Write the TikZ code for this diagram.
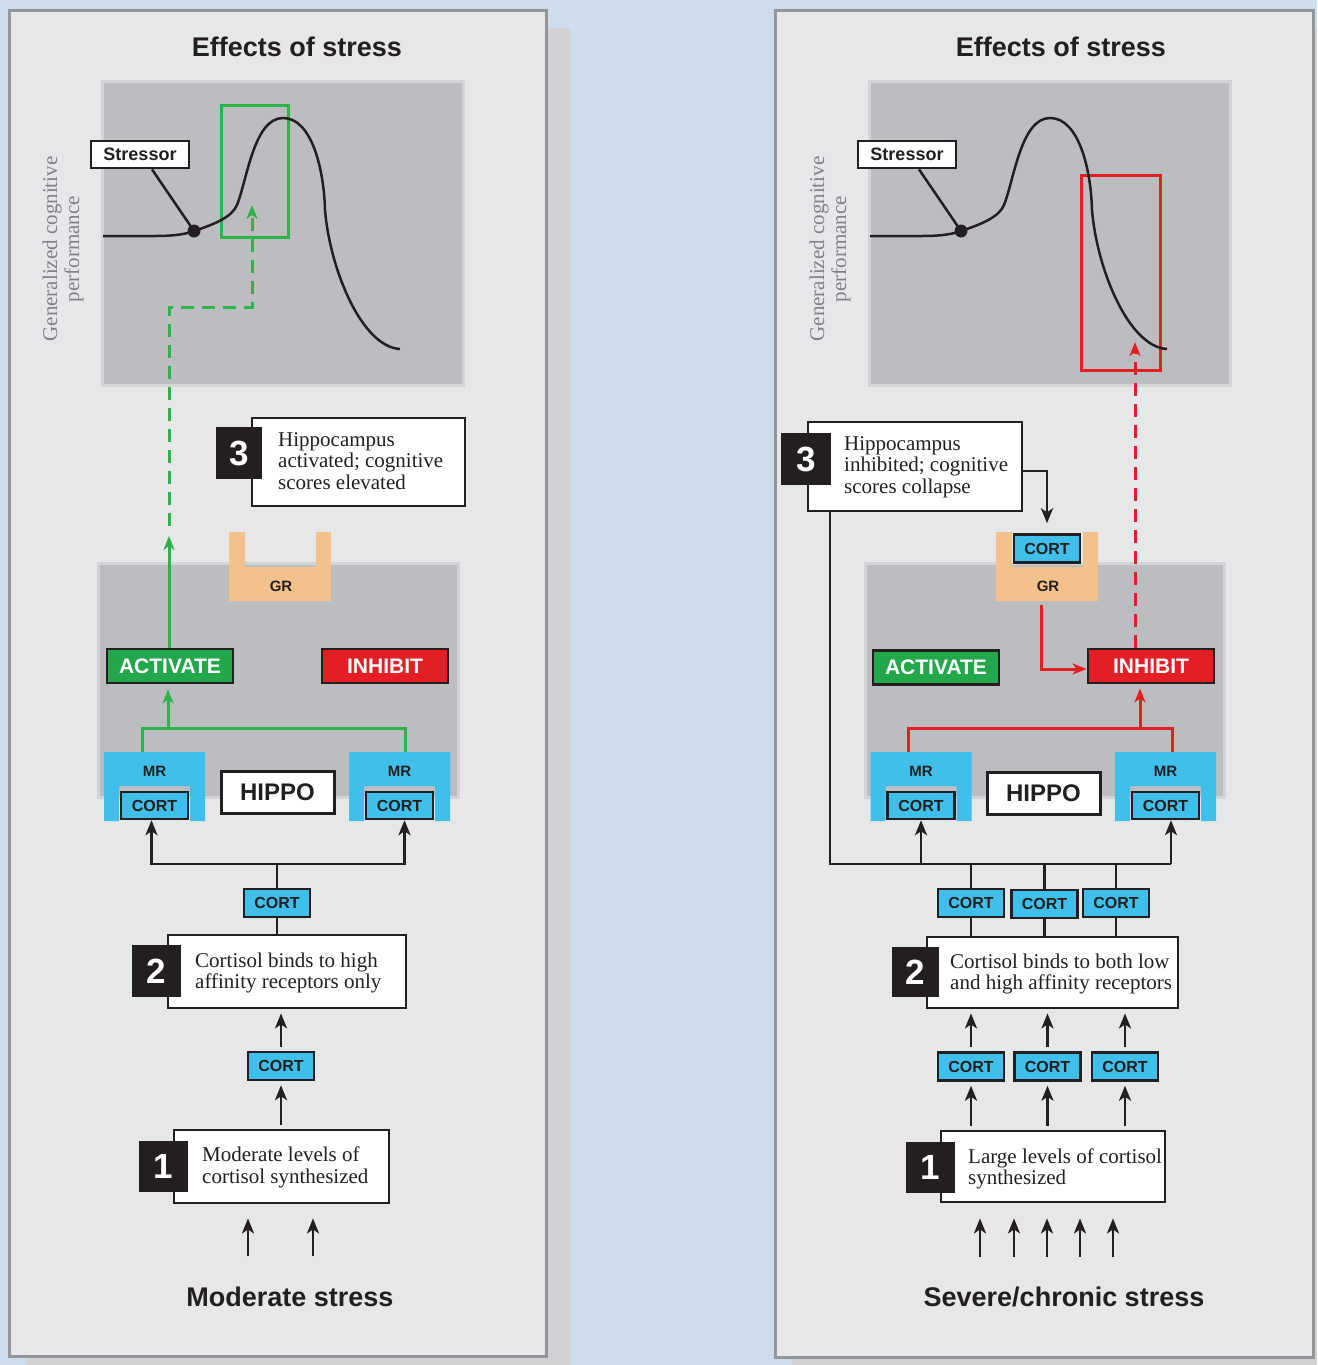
\documentclass[tikz,border=0pt]{standalone}
\usepackage{fontspec}
\setmainfont{Liberation Serif}
\setsansfont{Liberation Sans}
\usetikzlibrary{arrows.meta}
\definecolor{bgblue}{HTML}{CEDDEE}
\definecolor{panelgray}{HTML}{E6E7E8}
\definecolor{panelborder}{HTML}{939598}
\definecolor{shadowgray}{HTML}{D1D2D4}
\definecolor{boxgray}{HTML}{BCBDC0}
\definecolor{boxborder}{HTML}{D3D4D6}
\definecolor{ink}{HTML}{231F20}
\definecolor{cortblue}{HTML}{3FBFEA}
\definecolor{actgreen}{HTML}{22A84A}
\definecolor{linegreen}{HTML}{2DB34A}
\definecolor{inhred}{HTML}{E31E25}
\definecolor{grorange}{HTML}{F3C18B}
\definecolor{axisgray}{HTML}{808285}
\begin{document}
\begin{tikzpicture}[x=1pt,y=-1pt,
 panel/.style={fill=panelgray, draw=panelborder, line width=3pt},
 graybox/.style={fill=boxgray, draw=boxborder, line width=3pt, inner sep=0},
 ttl/.style={font=\fontsize{27}{30}\selectfont\sffamily\bfseries, text=ink, inner sep=0},
 axlab/.style={font=\fontsize{21}{22}\selectfont, text=axisgray, align=center, inner sep=0, rotate=90},
 cort/.style={fill=cortblue, draw=ink, line width=2.4pt, inner sep=0, minimum width=66pt, minimum height=28pt, font=\fontsize{16}{16}\selectfont\sffamily\bfseries, text=ink},
 lbl/.style={font=\fontsize{15}{15}\selectfont\sffamily\bfseries, text=ink, inner sep=0},
 txtbox/.style={fill=white, draw=ink, line width=2.8pt, inner sep=0},
 stressbox/.style={txtbox, minimum width=98pt, minimum height=27pt, font=\fontsize{18}{18}\selectfont\sffamily\bfseries, text=ink},
 hippo/.style={txtbox, line width=3pt, minimum width=113pt, minimum height=42pt, font=\fontsize{24}{24}\selectfont\sffamily\bfseries, text=ink},
 numbox/.style={fill=ink, text=white, inner sep=0, font=\fontsize{35}{35}\selectfont\sffamily\bfseries},
 steptext/.style={font=\fontsize{21}{21.5}\selectfont, text=ink, align=left, inner sep=0, anchor=west},
 actbox/.style={fill=actgreen, draw=ink, line width=2.8pt, inner sep=0, minimum width=126pt, minimum height=34pt, text=white, font=\fontsize{21}{21}\selectfont\sffamily\bfseries},
 inhbox/.style={actbox, fill=inhred},
 curve/.style={draw=ink, line width=2.5pt},
 dotnode/.style={circle, fill=ink, inner sep=0, minimum size=13pt},
 conn/.style={draw=ink, line width=2.8pt},
 arr/.style={conn, -{Stealth[length=15pt,width=12pt,inset=4pt]}},
 sh/.style={shorten <=4pt, shorten >=4pt},
 greenline/.style={draw=linegreen, line width=3pt},
 greenarr/.style={greenline, -{Stealth[length=14pt,width=11pt,inset=4pt]}},
 greendash/.style={greenarr, dash pattern=on 13pt off 8pt},
 redline/.style={draw=inhred, line width=3pt},
 redarr/.style={redline, -{Stealth[length=14pt,width=11pt,inset=4pt]}},
 reddash/.style={redarr, dash pattern=on 13pt off 8pt},
 grshape/.style={fill=grorange},
 mrshape/.style={fill=cortblue}
]
\useasboundingbox (0,0) rectangle (1317,1365);
\fill[bgblue] (0,0) rectangle (1317,1365);
\fill[shadowgray] (26,28) rectangle (570,1365);
\fill[shadowgray] (792,28) rectangle (1317,1365);
\draw[panel] (9,10) rectangle (546,1356);
\draw[panel] (775,10) rectangle (1313,1357);

\node[ttl] (titleL) at (297,47) {Effects of stress};
\node[ttl] (titleR) at (1061,47) {Effects of stress};

% graph boxes
\foreach \s/\dx in {L/0,R/767}{
 \begin{scope}[xshift=\dx pt]
  \node[graybox, minimum width=361pt, minimum height=304pt] (graph\s) at (282.5,233) {};
  \node[axlab] (ylab\s) at (63,249) {Generalized cognitive\\performance};
 \end{scope}
}
% highlight boxes
\node[draw=linegreen, line width=3pt, minimum width=67pt, minimum height=132pt, inner sep=0] (hiL) at (254.5,171) {};
\node[draw=inhred, line width=3pt, minimum width=79pt, minimum height=195pt, inner sep=0] (hiR) at (1120.5,272.5) {};

% curves
\foreach \s/\dx in {L/0,R/767}{
 \begin{scope}[xshift=\dx pt]
  \draw[curve] (103,236) -- (155,236) .. controls (175,236) and (186,234) .. (194,231)
    .. controls (215,224) and (232,217) .. (237,205)
    .. controls (247,180) and (254,118) .. (283,118)
    .. controls (312,118) and (324,170) .. (325,210)
    .. controls (330,270) and (362,347) .. (400,349);
  \node[stressbox] (str\s) at (140,154.5) {Stressor};
  \node[dotnode] (dot\s) at (194,231) {};
  \draw[curve] ([xshift=12pt]str\s.south) -- (dot\s.center);
 \end{scope}
}

% hippocampus boxes
\node[graybox, minimum width=360pt, minimum height=234pt] (hipL) at (278,680) {};
\node[graybox, minimum width=359pt, minimum height=234pt] (hipR) at (1044.5,680) {};

% GR shapes
\foreach \s/\dx in {L/0,R/767}{
 \begin{scope}[xshift=\dx pt]
  \fill[grshape] (229,532) -- (245,532) -- (245,567) -- (316,567) -- (316,532) -- (331,532) -- (331,601) -- (229,601) -- cycle;
  \node[lbl] (gr\s) at (281,586) {GR};
 \end{scope}
}
\node[cort] (cGR) at (1047,548.5) {CORT};

% MR shapes
\foreach \n/\cx in {mrLl/154.5, mrLr/399.5, mrRl/921, mrRr/1165.5}{
  \fill[mrshape] (\cx-50.5,752) -- (\cx+50.5,752) -- (\cx+50.5,821) -- (\cx+35.5,821) -- (\cx+35.5,786) -- (\cx-35.5,786) -- (\cx-35.5,821) -- (\cx-50.5,821) -- cycle;
  \node[minimum width=101pt, minimum height=69pt, inner sep=0] (\n) at (\cx,786.5) {};
  \node[lbl] (\n-lab) at (\cx,771) {MR};
  \node[cort, minimum width=67pt, minimum height=27pt] (\n-c) at (\cx,805.5) {CORT};
}
\node[hippo] (hippoL) at (277.5,792) {HIPPO};
\node[hippo] (hippoR) at (1043.5,793) {HIPPO};

\node[actbox] (actL) at (170,666) {ACTIVATE};
\node[inhbox] (inhL) at (385,666) {INHIBIT};
\node[actbox] (actR) at (936,667.5) {ACTIVATE};
\node[inhbox] (inhR) at (1151,666) {INHIBIT};

% ---------- left column ----------
\node[txtbox, minimum width=213pt, minimum height=88pt] (s3L) at (358.5,462) {};
\node[numbox, minimum width=46pt, minimum height=52pt] (n3L) at (239,453) {3};
\node[steptext] (t3L) at (278,461) {Hippocampus\\activated; cognitive\\scores elevated};

\coordinate (jL) at (277,864);
\node[cort] (cL1) at (277,903) {CORT};
\node[txtbox, minimum width=238pt, minimum height=73pt] (s2L) at (287,971.5) {};
\node[numbox, minimum width=49pt, minimum height=52pt] (n2L) at (156.5,971) {2};
\node[steptext] (t2L) at (195,973) {Cortisol binds to high\\affinity receptors only};
\node[cort] (cL2) at (281,1066) {CORT};
\node[txtbox, minimum width=215pt, minimum height=73pt] (s1L) at (281.5,1166.5) {};
\node[numbox, minimum width=49pt, minimum height=51pt] (n1L) at (163.5,1166.5) {1};
\node[steptext] (t1L) at (202,1167.5) {Moderate levels of\\cortisol synthesized};
\coordinate (inL1) at (248,1256);
\coordinate (inL2) at (313,1256);
\node[ttl] (footL) at (290,1297) {Moderate stress};

\draw[conn] (jL) -- (cL1.north);
\draw[conn] (cL1.south) -- (s2L.north -| cL1.south);
\draw[arr] (jL) -| ([xshift=-3pt]mrLl-c.south);
\draw[arr] (jL) -| ([xshift=5pt]mrLr-c.south);
\draw[arr, sh] (cL2.north) -- (cL2.north |- s2L.south);
\draw[arr, sh] (s1L.north -| cL2.south) -- (cL2.south);
\draw[arr, shorten >=14pt] (inL1) -- (inL1 |- s1L.south);
\draw[arr, shorten >=14pt] (inL2) -- (inL2 |- s1L.south);

% green pathway
\coordinate (gj) at (168,728);
\draw[greenline] ([xshift=-12.5pt]mrLl.north) |- (gj) -| ([xshift=6pt]mrLr.north);
\draw[greenarr, shorten >=5pt] (gj) -- (gj |- actL.south);
\coordinate (ga) at (169,536);
\draw[greenarr] (actL.north -| ga) -- (ga);
\coordinate (gb) at (169,526);
\coordinate (gc) at (252,307);
\coordinate (gd) at (252,205);
\draw[greendash] (gb) |- (gc) -- (gd);

% ---------- right column ----------
\node[txtbox, minimum width=214pt, minimum height=89pt] (s3R) at (915,466.5) {};
\node[numbox, minimum width=50pt, minimum height=52pt] (n3R) at (806,459) {3};
\node[steptext] (t3R) at (844,467) {Hippocampus\\inhibited; cognitive\\scores collapse};
\coordinate (k3) at (1047,471);
\draw[arr, shorten >=10pt] (s3R.east |- k3) -- (k3) -- (k3 |- cGR.north);

\coordinate (jR) at (830,864);
\coordinate (jRe) at (1171,864);
\draw[conn] (s3R.south -| jR) -- (jR) -- (jRe);
\draw[arr] (jRe) -- (jRe |- mrRr-c.south);
\draw[arr] (jR -| mrRl-c.south) -- (mrRl-c.south);

\node[cort] (cR1) at (971,903) {CORT};
\node[cort] (cR2) at (1044.5,904) {CORT};
\node[cort] (cR3) at (1116,903) {CORT};
\node[txtbox, minimum width=251pt, minimum height=71pt] (s2R) at (1052.5,972.5) {};
\node[numbox, minimum width=47pt, minimum height=50pt] (n2R) at (915.5,972) {2};
\node[steptext] (t2R) at (950,974) {Cortisol binds to both low\\and high affinity receptors};
\foreach \c in {cR1,cR2,cR3}{
  \draw[conn] (\c.north |- jR) -- (\c.north);
  \draw[conn] (\c.south) -- (\c.south |- s2R.north);
}
\node[cort] (cR4) at (971,1066.5) {CORT};
\node[cort] (cR5) at (1047.5,1066.5) {CORT};
\node[cort] (cR6) at (1125,1066.5) {CORT};
\node[txtbox, minimum width=224pt, minimum height=71pt] (s1R) at (1053,1166.5) {};
\node[numbox, minimum width=49pt, minimum height=51pt] (n1R) at (930.5,1167) {1};
\node[steptext] (t1R) at (968,1169) {Large levels of cortisol\\synthesized};
\foreach \c in {cR4,cR5,cR6}{
  \draw[arr, sh] (\c.north) -- (\c.north |- s2R.south);
  \draw[arr, sh] (s1R.north -| \c.south) -- (\c.south);
}
\foreach \i/\xx in {1/980,2/1014,3/1047,4/1080,5/1113}{
  \coordinate (inR\i) at (\xx,1257);
  \draw[arr, shorten >=15pt] (inR\i) -- (inR\i |- s1R.south);
}
\node[ttl] (footR) at (1064,1297) {Severe/chronic stress};

% red pathway
\coordinate (r1) at (1041,605);
\draw[redarr] (r1) |- ([yshift=-3pt]inhR.west);
\coordinate (rj) at (1140,728);
\draw[redline] ([xshift=-13pt]mrRl.north) |- (rj) -| ([xshift=6.5pt]mrRr.north);
\draw[redarr, shorten >=4pt] (rj) -- (rj |- inhR.south);
\coordinate (rt) at (1135,342);
\draw[reddash] (inhR.north -| rt) -- (rt);
\end{tikzpicture}
\end{document}
